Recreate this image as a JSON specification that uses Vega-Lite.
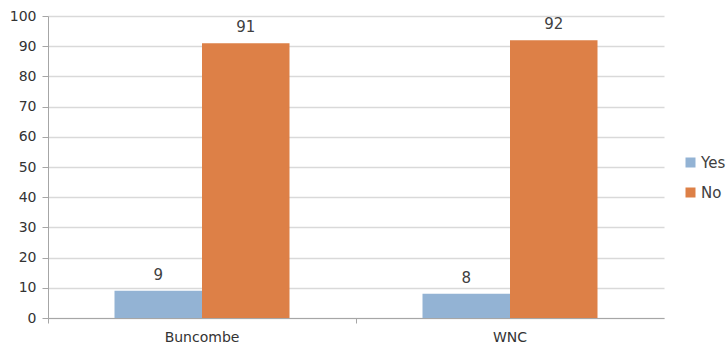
{
  "$schema": "https://vega.github.io/schema/vega-lite/v6.json",
  "autosize": "none",
  "width": 616,
  "height": 302,
  "padding": {"left": 48, "top": 16, "right": 62, "bottom": 27},
  "background": "white",
  "config": {
    "font": "DejaVu Sans",
    "view": {"stroke": null},
    "axis": {"labelFont": "DejaVu Sans", "labelColor": "#333333", "labelFontSize": 14}
  },
  "data": {
    "values": [
      {"region": "Buncombe", "answer": "Yes", "value": 9},
      {"region": "Buncombe", "answer": "No", "value": 91},
      {"region": "WNC", "answer": "Yes", "value": 8},
      {"region": "WNC", "answer": "No", "value": 92}
    ]
  },
  "encoding": {
    "x": {
      "field": "region", "type": "nominal", "sort": ["Buncombe", "WNC"],
      "scale": {"paddingInner": 0, "paddingOuter": 0},
      "axis": {"title": null, "labelAngle": 0, "bandPosition": 0, "tickColor": "#a6a6a6", "tickSize": 5, "domainColor": "#a6a6a6", "labelPadding": 7, "grid": false}
    },
    "xOffset": {
      "field": "answer", "type": "nominal", "sort": ["Yes", "No"],
      "scale": {"paddingInner": 0, "paddingOuter": 0.76}
    },
    "y": {
      "field": "value", "type": "quantitative",
      "scale": {"domain": [0, 100], "nice": false},
      "axis": {"title": null, "values": [0,10,20,30,40,50,60,70,80,90,100], "gridColor": "#d9d9d9", "gridWidth": 1.5, "domainColor": "#a6a6a6", "tickColor": "#a6a6a6", "tickSize": 6, "labelPadding": 6}
    }
  },
  "layer": [
    {
      "mark": {"type": "bar"},
      "encoding": {
        "color": {
          "field": "answer", "type": "nominal", "sort": ["Yes", "No"],
          "scale": {"domain": ["Yes", "No"], "range": ["#93b3d4", "#dd8047"]},
          "legend": {
            "title": null, "orient": "none", "legendX": 635, "legendY": 139,
            "symbolType": "square", "symbolSize": 100, "symbolStrokeWidth": 0,
            "labelFontSize": 15, "labelColor": "#404040", "labelFont": "DejaVu Sans",
            "rowPadding": 14, "labelOffset": 3
          }
        }
      }
    },
    {
      "mark": {"type": "text", "dy": -8, "baseline": "bottom", "fontSize": 15, "color": "#404040"},
      "encoding": {"text": {"field": "value", "type": "quantitative"}}
    }
  ]
}
